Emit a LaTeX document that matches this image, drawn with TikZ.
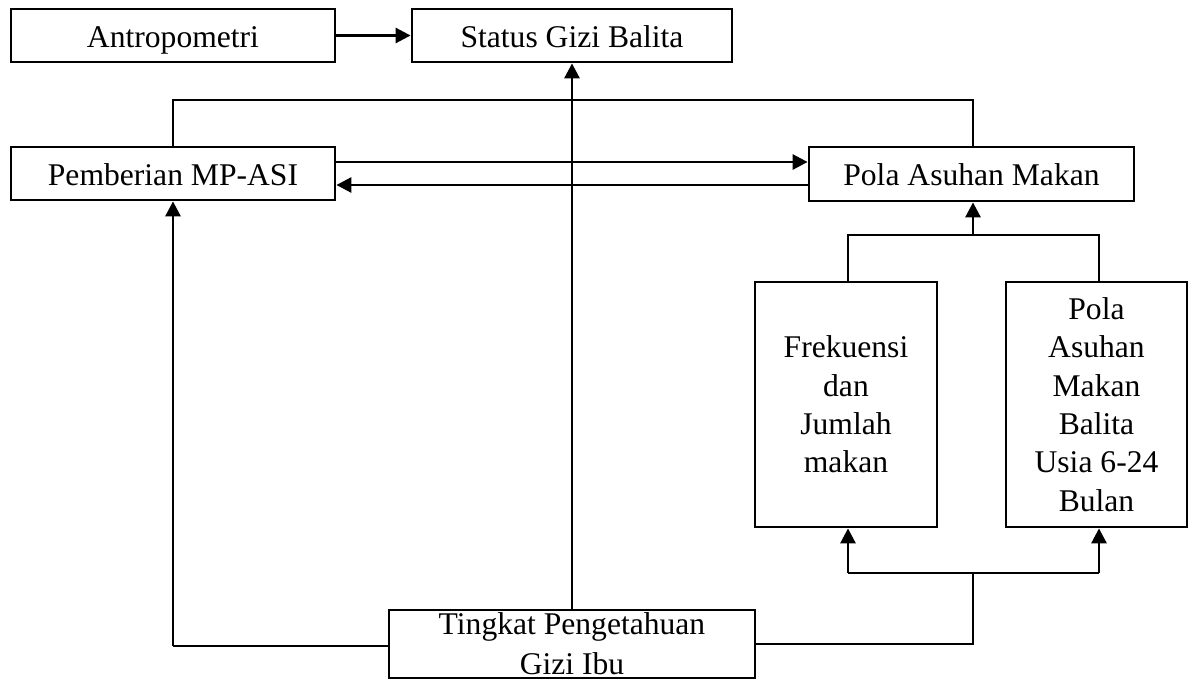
\documentclass[tikz,border=0pt]{standalone}
\usepackage{fontspec}
\setmainfont{Liberation Serif}
\usetikzlibrary{arrows.meta}
\begin{document}
\begin{tikzpicture}[x=0.5pt,y=-0.5pt,
  box/.style={draw,line width=1.4pt,inner sep=0pt,align=center,font=\fontsize{15.8}{19.2}\selectfont},
  onebox/.style={box,text height=14pt,text depth=2.5pt},
  conn/.style={line width=1.4pt},
  thin/.style={line width=1.1pt},
  arr/.style={line width=1.4pt,-{Triangle[length=7.5pt,width=7.5pt]}}]
\useasboundingbox (0,0) rectangle (1195,680);
\node[onebox,minimum width=162pt,minimum height=26.5pt] (anthro) at (173,35.5) {Antropometri};
\node[onebox,minimum width=160pt,minimum height=26.5pt] (status) at (572,35.5) {Status Gizi Balita};
\node[onebox,minimum width=162pt,minimum height=26.5pt] (mpasi) at (173,173.5) {Pemberian MP-ASI};
\node[onebox,minimum width=162.5pt,minimum height=27pt] (pola) at (971.5,174) {Pola Asuhan Makan};
\node[box,minimum width=91pt,minimum height=122.5pt] (frek) at (846,404.5) {Frekuensi\\dan\\Jumlah\\makan};
\node[box,minimum width=90.5pt,minimum height=122.5pt] (balita) at (1096.5,404.5) {Pola\\Asuhan\\Makan\\Balita\\Usia 6-24\\Bulan};
\node[box,minimum width=183pt,minimum height=34pt,font=\fontsize{15.8}{20}\selectfont] (tingkat) at (572,644) {Tingkat Pengetahuan\\Gizi Ibu};
\coordinate (topL) at (173,100);
\coordinate (topR) at (973,100);
\coordinate (upJ) at (973,235);
\coordinate (upL) at (848,235);
\coordinate (upR) at (1099,235);
\coordinate (lowJ) at (973,573);
\coordinate (lowL) at (848,573);
\coordinate (lowR) at (1099,573);
\coordinate (leftC) at (173,646);
\coordinate (mid1) at (0,162);
\coordinate (mid2) at (0,185);
% connectors
\draw[arr] (anthro.east) -- (status.west);
\draw[arr] (tingkat.north) -- (status.south);
\draw[thin] (mpasi.north) -- (topL) -- (topR) -- (pola.north -| topR);
\draw[arr] (mpasi.east |- mid1) -- (pola.west |- mid1);
\draw[arr] (pola.west |- mid2) -- (mpasi.east |- mid2);
\draw[conn] (frek.north -| upL) -- (upL) -- (upR) -- (balita.north -| upR);
\draw[arr] (upJ) -- (pola.south -| upJ);
\draw[conn] (tingkat.east) -| (lowJ);
\draw[conn] (lowL) -- (lowR);
\draw[arr] (lowL) -- (frek.south -| lowL);
\draw[arr] (lowR) -- (balita.south -| lowR);
\draw[conn] (tingkat.west |- leftC) -- (leftC);
\draw[arr] (leftC) -- (mpasi.south);
\end{tikzpicture}
\end{document}
